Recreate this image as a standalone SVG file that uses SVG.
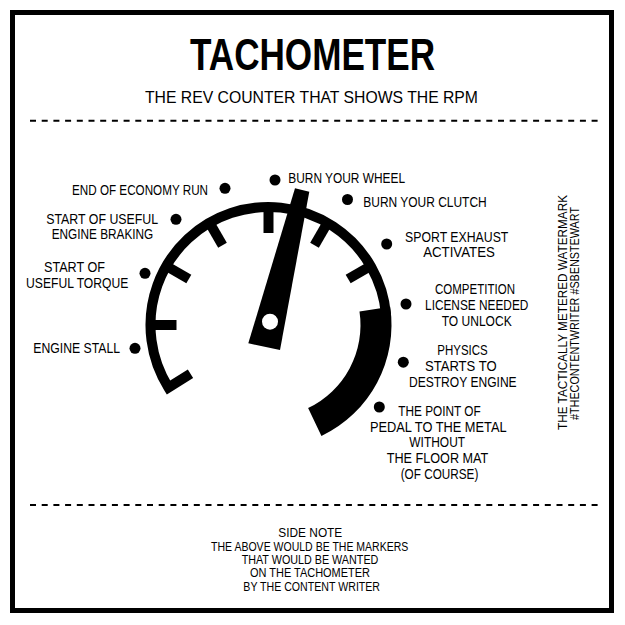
<svg xmlns="http://www.w3.org/2000/svg" width="625" height="625" viewBox="0 0 625 625">
<style>
  text { font-family: "Liberation Sans", Arial, sans-serif; fill: #000; }
  .lbl { font-size: 14.5px; }
  .note { font-size: 12.5px; text-anchor: middle; }
  .mid { text-anchor: middle; }
  .end { text-anchor: end; }
  .dot { fill: #000; }
  .dash { stroke: #000; stroke-width: 2; stroke-dasharray: 6 5.7; fill: none; }
  .ring { stroke: #000; stroke-width: 10; fill: none; stroke-linejoin: miter; }
  .tick { stroke: #000; stroke-width: 10; fill: none; }
</style>
<rect x="0" y="0" width="625" height="625" fill="#fff"/>
<rect x="12.5" y="12.5" width="599" height="598" fill="none" stroke="#000" stroke-width="5"/>

<g id="header">
  <text x="312.5" y="70" class="mid" font-size="44" font-weight="bold" textLength="245" lengthAdjust="spacingAndGlyphs">TACHOMETER</text>
  <text x="311.5" y="103" class="mid" font-size="16.5" textLength="333" lengthAdjust="spacingAndGlyphs">THE REV COUNTER THAT SHOWS THE RPM</text>
  <line x1="30" y1="120.7" x2="603" y2="120.7" class="dash"/>
</g>

<g id="gauge">
  <path class="ring" d="M 190.48 373.75 L 168.43 387.53 A 118 118 0 1 1 386.05 314.71"/>
  <line class="tick" x1="150.5" y1="325" x2="176.5" y2="325"/>
  <line class="tick" x1="166.31" y1="266" x2="188.83" y2="279"/>
  <line class="tick" x1="209.5" y1="222.81" x2="222.5" y2="245.33"/>
  <line class="tick" x1="268.5" y1="207" x2="268.5" y2="233"/>
  <line class="tick" x1="327.5" y1="222.81" x2="314.5" y2="245.33"/>
  <line class="tick" x1="370.69" y1="266" x2="348.17" y2="279"/>
  <path id="redline" fill="#000" d="M 359.49 311.4 L 390.15 306.82 A 123 123 0 0 1 321.45 436.02 L 308.11 408.04 A 92 92 0 0 0 359.49 311.4 Z"/>
  <polygon id="needle" fill="#000" points="295,188.3 309.3,191.7 280,350 248.3,343.3"/>
  <circle cx="270" cy="321.7" r="8" fill="#fff"/>
</g>

<g id="engine-stall">
  <circle class="dot" cx="135" cy="348.3" r="5.5"/>
  <text class="lbl" x="33.3" y="353.3" textLength="86.7" lengthAdjust="spacingAndGlyphs">ENGINE STALL</text>
</g>
<g id="useful-torque">
  <circle class="dot" cx="145" cy="273.3" r="5.5"/>
  <text class="lbl mid" x="74.5" y="272" textLength="61" lengthAdjust="spacingAndGlyphs">START OF</text>
  <text class="lbl mid" x="77.2" y="288" textLength="102.3" lengthAdjust="spacingAndGlyphs">USEFUL TORQUE</text>
</g>
<g id="engine-braking">
  <circle class="dot" cx="176" cy="219.3" r="5.5"/>
  <text class="lbl mid" x="102.2" y="223.5" textLength="112" lengthAdjust="spacingAndGlyphs">START OF USEFUL</text>
  <text class="lbl mid" x="102.5" y="239" textLength="101.6" lengthAdjust="spacingAndGlyphs">ENGINE BRAKING</text>
</g>
<g id="economy-run">
  <circle class="dot" cx="225" cy="188.3" r="5.5"/>
  <text class="lbl" x="72" y="195" textLength="136" lengthAdjust="spacingAndGlyphs">END OF ECONOMY RUN</text>
</g>
<g id="burn-wheel">
  <circle class="dot" cx="275" cy="180" r="5.5"/>
  <text class="lbl" x="288.3" y="183.3" textLength="116.7" lengthAdjust="spacingAndGlyphs">BURN YOUR WHEEL</text>
</g>
<g id="burn-clutch">
  <circle class="dot" cx="347.5" cy="199.5" r="5.5"/>
  <text class="lbl" x="363.3" y="206.7" textLength="123.4" lengthAdjust="spacingAndGlyphs">BURN YOUR CLUTCH</text>
</g>
<g id="sport-exhaust">
  <circle class="dot" cx="386.7" cy="244" r="5.5"/>
  <text class="lbl mid" x="456.7" y="241.7" textLength="103.3" lengthAdjust="spacingAndGlyphs">SPORT EXHAUST</text>
  <text class="lbl mid" x="459" y="257.3" textLength="71.7" lengthAdjust="spacingAndGlyphs">ACTIVATES</text>
</g>
<g id="competition-license">
  <circle class="dot" cx="406" cy="304" r="5.5"/>
  <text class="lbl mid" x="475" y="294" textLength="80" lengthAdjust="spacingAndGlyphs">COMPETITION</text>
  <text class="lbl mid" x="476.7" y="310" textLength="103.3" lengthAdjust="spacingAndGlyphs">LICENSE NEEDED</text>
  <text class="lbl mid" x="476.7" y="325.7" textLength="70" lengthAdjust="spacingAndGlyphs">TO UNLOCK</text>
</g>
<g id="physics-destroy">
  <circle class="dot" cx="403.3" cy="362.2" r="5.5"/>
  <text class="lbl mid" x="462.5" y="355" textLength="50.4" lengthAdjust="spacingAndGlyphs">PHYSICS</text>
  <text class="lbl mid" x="460.8" y="370.7" textLength="71.7" lengthAdjust="spacingAndGlyphs">STARTS TO</text>
  <text class="lbl mid" x="462.8" y="386.7" textLength="107.7" lengthAdjust="spacingAndGlyphs">DESTROY ENGINE</text>
</g>
<g id="pedal-to-metal">
  <circle class="dot" cx="379.3" cy="407" r="5.5"/>
  <text class="lbl mid" x="439.5" y="415.7" textLength="82.4" lengthAdjust="spacingAndGlyphs">THE POINT OF</text>
  <text class="lbl mid" x="438.3" y="431.7" textLength="136.7" lengthAdjust="spacingAndGlyphs">PEDAL TO THE METAL</text>
  <text class="lbl mid" x="437.2" y="447.3" textLength="55.7" lengthAdjust="spacingAndGlyphs">WITHOUT</text>
  <text class="lbl mid" x="437.5" y="463.3" textLength="101.6" lengthAdjust="spacingAndGlyphs">THE FLOOR MAT</text>
  <text class="lbl mid" x="439.5" y="478.5" textLength="77.6" lengthAdjust="spacingAndGlyphs">(OF COURSE)</text>
</g>

<g id="watermark">
  <text transform="translate(567,312.5) rotate(-90)" class="mid" font-size="12" textLength="235" lengthAdjust="spacingAndGlyphs">THE TACTICALLY METERED WATERMARK</text>
  <text transform="translate(579,313.5) rotate(-90)" class="mid" font-size="12" textLength="213" lengthAdjust="spacingAndGlyphs">#THECONTENTWRITER #SBENSTEWART</text>
</g>

<g id="side-note">
  <line x1="30" y1="505" x2="603" y2="505" class="dash"/>
  <text class="note" x="310.3" y="537.3" textLength="64" lengthAdjust="spacingAndGlyphs">SIDE NOTE</text>
  <text class="note" x="309.7" y="550.7" textLength="197.3" lengthAdjust="spacingAndGlyphs">THE ABOVE WOULD BE THE MARKERS</text>
  <text class="note" x="310" y="564" textLength="136.7" lengthAdjust="spacingAndGlyphs">THAT WOULD BE WANTED</text>
  <text class="note" x="310" y="577.3" textLength="120" lengthAdjust="spacingAndGlyphs">ON THE TACHOMETER</text>
  <text class="note" x="311.7" y="590.7" textLength="136.7" lengthAdjust="spacingAndGlyphs">BY THE CONTENT WRITER</text>
</g>
</svg>
